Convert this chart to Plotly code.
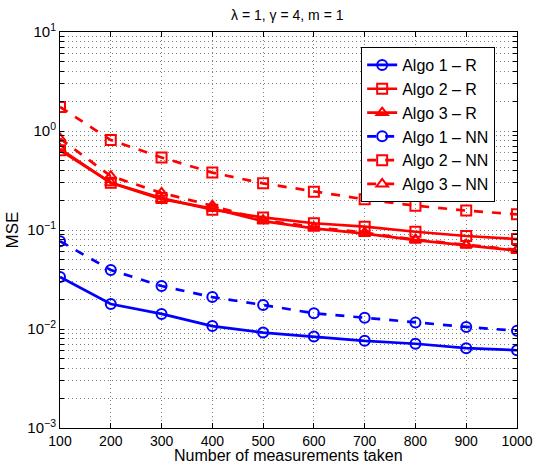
import plotly.graph_objects as go

x_vals = [100, 200, 300, 400, 500, 600, 700, 800, 900, 1000]

algo1_r = [0.0335, 0.0179, 0.0142, 0.0107, 0.0092, 0.0084, 0.0076, 0.0071, 0.0064, 0.0061]
algo2_r = [0.64, 0.30, 0.21, 0.160, 0.134, 0.117, 0.108, 0.096, 0.087, 0.081]
algo3_r = [0.66, 0.30, 0.205, 0.165, 0.123, 0.104, 0.092, 0.079, 0.070, 0.062]
algo1_nn = [0.077, 0.0394, 0.0272, 0.021, 0.0175, 0.0144, 0.0130, 0.0116, 0.0105, 0.0096]
algo2_nn = [1.75, 0.81, 0.54, 0.38, 0.296, 0.244, 0.204, 0.176, 0.157, 0.144]
algo3_nn = [0.84, 0.35, 0.237, 0.176, 0.126, 0.107, 0.094, 0.080, 0.071, 0.063]

decade_exps = [-3, -2, -1, 0, 1]
decade_labels = ["10<sup>\u22123</sup>", "10<sup>\u22122</sup>", "10<sup>\u22121</sup>",
                 "10<sup>0</sup>", "10<sup>1</sup>"]

series = [
    ("Algo 1 \u2013 R", algo1_r, "blue", "solid", "circle-open"),
    ("Algo 2 \u2013 R", algo2_r, "red", "solid", "square-open"),
    ("Algo 3 \u2013 R", algo3_r, "red", "solid", "triangle-up-open"),
    ("Algo 1 \u2013 NN", algo1_nn, "blue", "dash", "circle-open"),
    ("Algo 2 \u2013 NN", algo2_nn, "red", "dash", "square-open"),
    ("Algo 3 \u2013 NN", algo3_nn, "red", "dash", "triangle-up-open"),
]

# y tick positions: decades labelled, intermediate 2..9 unlabelled (for minor grid)
y_tickvals, y_ticktext = [], []
for i, e in enumerate(decade_exps):
    y_tickvals.append(10.0 ** e)
    y_ticktext.append(decade_labels[i])
    if e < decade_exps[-1]:
        for k in range(2, 10):
            y_tickvals.append(k * 10.0 ** e)
            y_ticktext.append("")

fig = go.Figure()
for name, ys, color, dash, sym in series:
    fig.add_trace(go.Scatter(
        x=x_vals, y=ys, name=name, mode="lines+markers",
        line=dict(color=color, width=2.7, dash=dash),
        marker=dict(symbol=sym, size=10, color=color, line=dict(color=color, width=2)),
    ))

font_family = "Liberation Sans, Arial, Helvetica, sans-serif"
grid_dash = "1px,3px"
fig.update_layout(
    width=537, height=463,
    margin=dict(l=60, r=20, t=32, b=35),
    paper_bgcolor="white", plot_bgcolor="white",
    font=dict(family=font_family, size=14, color="black"),
    title=dict(text="\u03bb = 1, \u03b3 = 4, m = 1", x=0.535, xanchor="center",
               y=0.967, yanchor="middle", font=dict(size=14)),
    legend=dict(x=0.659, y=0.962, xanchor="left", yanchor="top",
                bordercolor="black", borderwidth=1, bgcolor="white",
                font=dict(size=16), tracegroupgap=0, itemwidth=30),
    showlegend=True,
    annotations=[dict(text="Number of measurements taken", xref="paper", yref="paper",
                      x=0.5, y=0, xanchor="center", yanchor="top", yshift=-17,
                      showarrow=False, font=dict(size=16))],
)
fig.update_xaxes(
    range=[100, 1000], tickvals=x_vals, ticktext=[str(v) for v in x_vals],
    showline=True, linecolor="black", linewidth=1, mirror="allticks",
    ticks="inside", ticklen=5, tickcolor="black",
    showgrid=True, gridcolor="#808080", griddash=grid_dash, gridwidth=1,
    zeroline=False, automargin=False,
    tickfont=dict(size=14),
)
fig.update_yaxes(
    type="log", range=[-3, 1], tickvals=y_tickvals, ticktext=y_ticktext,
    showline=True, linecolor="black", linewidth=1, mirror="allticks",
    ticks="inside", ticklen=4, tickcolor="black",
    showgrid=True, gridcolor="#808080", griddash=grid_dash, gridwidth=1,
    zeroline=False, automargin=False,
    title=dict(text="MSE", standoff=4, font=dict(size=17)),
    tickfont=dict(size=15),
)

fig.write_html("out.html",
               config={"displayModeBar": False, "staticPlot": True},
               post_script="document.body.style.margin='0px';document.body.style.overflow='hidden';")
